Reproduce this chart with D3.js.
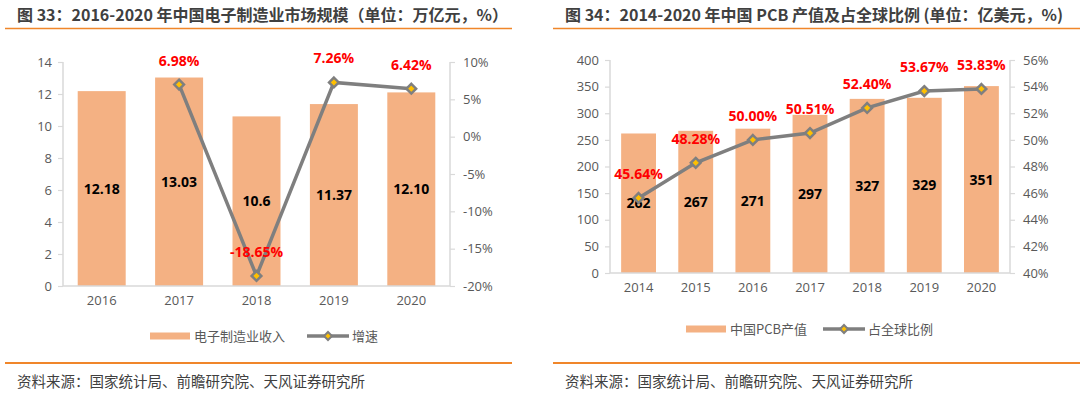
<!DOCTYPE html>
<html><head><meta charset="utf-8">
<script src="https://cdn.jsdelivr.net/npm/d3@7"></script>
<style>
body{margin:0;background:#fff;}
svg{display:block;font-family:"Open Sans","Noto Sans CJK SC",sans-serif;}
</style></head>
<body><svg id="c" width="1080" height="393"></svg>
<script>
// ---- Chart 1 data ----
const years1 = ["2016","2017","2018","2019","2020"];
const revenue = [12.18, 13.03, 10.6, 11.37, 12.10];
const revenueLabels = ["12.18","13.03","10.6","11.37","12.10"];
const growth = [null, 6.98, -18.65, 7.26, 6.42];
const growthLabels = [null, "6.98%", "-18.65%", "7.26%", "6.42%"];
const leftTicks1 = [0,2,4,6,8,10,12,14];
const rightTicks1 = [-20,-15,-10,-5,0,5,10];

// ---- Chart 2 data ----
const years2 = ["2014","2015","2016","2017","2018","2019","2020"];
const pcb = [262, 267, 271, 297, 327, 329, 351];
const share = [45.64, 48.28, 50.00, 50.51, 52.40, 53.67, 53.83];
const shareLabels = ["45.64%","48.28%","50.00%","50.51%","52.40%","53.67%","53.83%"];
const leftTicks2 = [0,50,100,150,200,250,300,350,400];
const rightTicks2 = [40,42,44,46,48,50,52,54,56];

const svg = d3.select("#c");
const ORANGE = "#F0862A", BAR = "#F4B183", LINE = "#7F7F7F", MK = "#FFC000";
const AX = "#D9D9D9", TXT = "#595959";

function panel(o){
  const g = svg.append("g");
  // title
  g.append("text").attr("x", o.titleX).attr("y", 21).attr("font-size", 16).attr("font-weight", "bold")
    .attr("fill", "#404040").attr("font-family", "\"Noto Sans CJK SC\",sans-serif").text(o.title);
  g.append("line").attr("x1", o.lineX1).attr("x2", o.lineX2).attr("y1", 28.5).attr("y2", 28.5)
    .attr("stroke", ORANGE).attr("stroke-width", 1.5);
  g.append("line").attr("x1", o.lineX1).attr("x2", o.lineX2).attr("y1", 363).attr("y2", 363)
    .attr("stroke", ORANGE).attr("stroke-width", 2);
  g.append("text").attr("x", o.srcX).attr("y", 387).attr("font-size", 14.5).attr("fill", "#404040")
    .attr("font-family", "\"Noto Sans CJK SC\",sans-serif").text("资料来源：国家统计局、前瞻研究院、天风证券研究所");

  const x = d3.scaleBand().domain(o.cats).range([o.x0, o.x1]).paddingInner(o.pad).paddingOuter(o.pad/2);
  const yL = d3.scaleLinear().domain(o.yLdom).range([o.yBot, o.yTop]);
  const yR = d3.scaleLinear().domain(o.yRdom).range([o.yBot, o.yTop]);

  // axes
  const la = g.append("g").attr("transform", `translate(${o.x0},0)`)
    .call(d3.axisLeft(yL).tickValues(o.lt).tickSize(5).tickPadding(6));
  const ra = g.append("g").attr("transform", `translate(${o.x1},0)`)
    .call(d3.axisRight(yR).tickValues(o.rt).tickSize(5).tickPadding(8).tickFormat(d => d + "%"));
  [la, ra].forEach(a => {
    a.select(".domain").attr("stroke", AX).attr("stroke-width", 1.5);
    a.selectAll(".tick line").attr("stroke", AX).attr("stroke-width", 1.2);
    a.selectAll("text").attr("font-size", 13).attr("fill", TXT).attr("font-family", "\"Open Sans\",sans-serif");
  });
  ra.select(".domain").attr("d", `M0,${o.yTop}V${o.yBot}`);
  la.select(".domain").attr("d", `M0,${o.yTop}V${o.yBot}`);

  // bars
  g.selectAll("rect.bar").data(o.cats).enter().append("rect")
    .attr("x", d => x(d)).attr("width", x.bandwidth())
    .attr("y", (d,i) => yL(o.bars[i])).attr("height", (d,i) => yL(0) - yL(o.bars[i]))
    .attr("fill", BAR);

  // x axis
  const xa = g.append("g").attr("transform", `translate(0,${o.yBot})`)
    .call(d3.axisBottom(x).tickSize(0).tickPadding(10));
  xa.select(".domain").attr("d", `M${o.x0},0H${o.x1}`).attr("stroke", AX).attr("stroke-width", 1.5);
  xa.selectAll("text").attr("font-size", 13).attr("fill", TXT).attr("font-family", "\"Open Sans\",sans-serif");

  // bar labels
  g.selectAll("text.bl").data(o.cats).enter().append("text")
    .attr("x", d => x(d) + x.bandwidth()/2)
    .attr("y", (d,i) => (yL(o.bars[i]) + yL(0))/2 + 5)
    .attr("text-anchor", "middle").attr("font-size", 14).attr("font-weight", "bold").attr("fill", "#000")
    .attr("font-family", "\"Open Sans\",sans-serif")
    .text((d,i) => o.barLabels[i]);

  // line
  const pts = o.cats.map((c,i) => ({c, v: o.line[i], l: o.lineLabels[i]})).filter(p => p.v != null);
  g.append("path").datum(pts)
    .attr("d", d3.line().x(p => x(p.c) + x.bandwidth()/2).y(p => yR(p.v)))
    .attr("fill", "none").attr("stroke", LINE).attr("stroke-width", 3.5);
  g.selectAll("path.mk").data(pts).enter().append("path")
    .attr("transform", p => `translate(${x(p.c) + x.bandwidth()/2},${yR(p.v)})`)
    .attr("d", d3.symbol(d3.symbolDiamond2, 60)())
    .attr("fill", MK).attr("stroke", LINE).attr("stroke-width", 2.5);
  g.selectAll("text.ll").data(pts).enter().append("text")
    .attr("x", p => x(p.c) + x.bandwidth()/2).attr("y", p => yR(p.v) - 19)
    .attr("text-anchor", "middle").attr("font-size", 14).attr("font-weight", "bold").attr("fill", "#FF0000")
    .attr("font-family", "\"Open Sans\",sans-serif")
    .text(p => p.l);

  // legend
  const ly = o.legY;
  g.append("rect").attr("x", o.legX).attr("y", ly - 3.5).attr("width", 40).attr("height", 7).attr("fill", BAR);
  g.append("text").attr("x", o.legX + 44).attr("y", ly + 5).attr("font-size", 13).attr("fill", TXT)
    .attr("font-family", "\"Noto Sans CJK SC\",sans-serif").text(o.leg1);
  const lx2 = o.legX2;
  g.append("line").attr("x1", lx2).attr("x2", lx2 + 42).attr("y1", ly).attr("y2", ly)
    .attr("stroke", LINE).attr("stroke-width", 3.5);
  g.append("path").attr("transform", `translate(${lx2 + 21},${ly})`)
    .attr("d", d3.symbol(d3.symbolDiamond2, 40)())
    .attr("fill", MK).attr("stroke", LINE).attr("stroke-width", 2);
  g.append("text").attr("x", lx2 + 45).attr("y", ly + 5).attr("font-size", 13).attr("fill", TXT)
    .attr("font-family", "\"Noto Sans CJK SC\",sans-serif").text(o.leg2);
}

panel({
  title: "图 33：2016-2020 年中国电子制造业市场规模（单位：万亿元，%）",
  titleX: 17, lineX1: 5, lineX2: 512, srcX: 17,
  cats: years1, bars: revenue, barLabels: revenueLabels, line: growth, lineLabels: growthLabels,
  x0: 63, x1: 450, pad: 0.38, yTop: 62, yBot: 286,
  yLdom: [0,14], yRdom: [-20,10], lt: leftTicks1, rt: rightTicks1,
  legY: 336, legX: 150, legX2: 307, leg1: "电子制造业收入", leg2: "增速"
});

panel({
  title: "图 34：2014-2020 年中国 PCB 产值及占全球比例 (单位：亿美元，%)",
  titleX: 565, lineX1: 553, lineX2: 1080, srcX: 565,
  cats: years2, bars: pcb, barLabels: pcb.map(String), line: share, lineLabels: shareLabels,
  x0: 610, x1: 1010, pad: 0.39, yTop: 60, yBot: 273,
  yLdom: [0,400], yRdom: [40,56], lt: leftTicks2, rt: rightTicks2,
  legY: 329, legX: 686, legX2: 823, leg1: "中国PCB产值", leg2: "占全球比例"
});
</script></body></html>
